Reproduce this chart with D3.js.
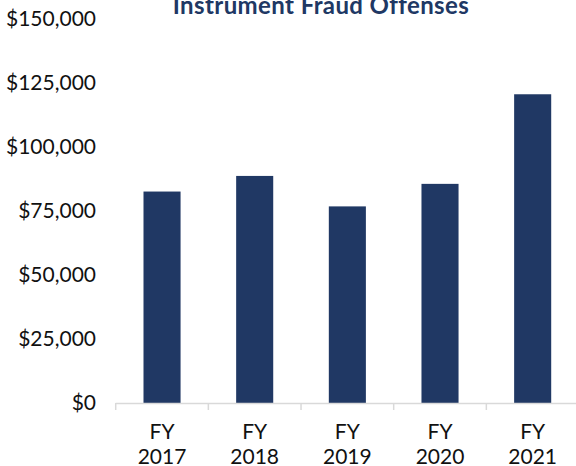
<!DOCTYPE html>
<meta charset="utf-8">
<style>
body { margin: 0; background: #fff; }
text { font-family: Lato, "Open Sans", sans-serif; }
.axis text { font-size: 21px; fill: #111; }
.title { font-size: 24px; font-weight: bold; fill: #203864; letter-spacing: 0.4px; }
.bar { fill: #203864; }
</style>
<svg width="576" height="466"></svg>
<script src="https://d3js.org/d3.v7.min.js"></script>
<script>
var years = ["2017", "2018", "2019", "2020", "2021"];
var offenses = [82600, 88700, 76800, 85600, 120600];
var yTicks = [0, 25000, 50000, 75000, 100000, 125000, 150000];

var svg = d3.select("svg"),
    plotLeft = 115.7, plotRight = 579, plotTop = 19, plotBottom = 403;

var x = d3.scaleBand()
    .domain(years)
    .range([plotLeft, plotRight])
    .paddingInner(0.6)
    .paddingOuter(0.3);

var y = d3.scaleLinear()
    .domain([0, 150000])
    .range([plotBottom, plotTop]);

svg.append("text")
    .attr("class", "title")
    .attr("x", 321)
    .attr("y", 14)
    .attr("text-anchor", "middle")
    .text("Instrument Fraud Offenses");

svg.selectAll(".bar")
    .data(years)
  .enter().append("rect")
    .attr("class", "bar")
    .attr("x", function(d) { return x(d); })
    .attr("width", x.bandwidth())
    .attr("y", function(d, i) { return y(offenses[i]); })
    .attr("height", function(d, i) { return plotBottom - y(offenses[i]); });

// y labels, no axis line
var yAxis = svg.append("g")
    .attr("class", "axis")
    .attr("transform", "translate(96,0)")
    .call(d3.axisLeft(y).tickValues(yTicks).tickSize(0).tickPadding(0)
      .tickFormat(function(d) { return "$" + d3.format(",")(d); }));
yAxis.select(".domain").remove();
yAxis.selectAll("text").attr("font-family", null).attr("font-size", null);

// x axis line with dividers between categories
var step = x.step();
svg.append("line")
    .attr("x1", plotLeft).attr("x2", plotRight)
    .attr("y1", plotBottom + 0.5).attr("y2", plotBottom + 0.5)
    .attr("stroke", "#d9d9d9")
    .attr("stroke-width", 1.5);

svg.selectAll(".divider")
    .data(d3.range(years.length + 1))
  .enter().append("line")
    .attr("class", "divider")
    .attr("x1", function(i) { return plotLeft + i * step; })
    .attr("x2", function(i) { return plotLeft + i * step; })
    .attr("y1", plotBottom).attr("y2", plotBottom + 7)
    .attr("stroke", "#d9d9d9")
    .attr("stroke-width", 1.5);

var xl = svg.append("g").attr("class", "axis");
var lab = xl.selectAll("text")
    .data(years)
  .enter().append("text")
    .attr("text-anchor", "middle")
    .attr("x", function(d) { return x(d) + x.bandwidth() / 2; });
lab.append("tspan")
    .attr("x", function(d) { return x(d) + x.bandwidth() / 2; })
    .attr("y", 439)
    .text("FY");
lab.append("tspan")
    .attr("x", function(d) { return x(d) + x.bandwidth() / 2; })
    .attr("y", 464)
    .text(function(d) { return d; });
</script>
